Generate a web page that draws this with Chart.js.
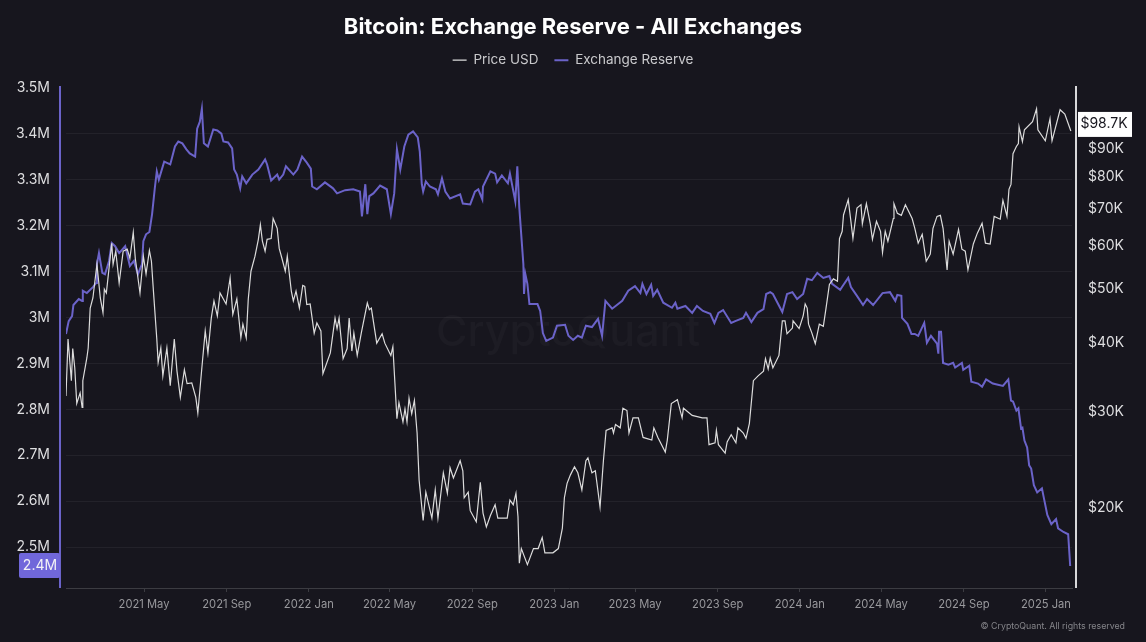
<!DOCTYPE html>
<html>
<head>
<meta charset="utf-8">
<title>Bitcoin: Exchange Reserve - All Exchanges</title>
<script src="https://cdn.jsdelivr.net/npm/chart.js@4/dist/chart.umd.min.js"></script>
<style>
  html, body { margin: 0; padding: 0; background: #17161e; }
  canvas { display: block; }
</style>
</head>
<body>
<canvas id="chart" width="1146" height="642"></canvas>
<script>
// days counted from 2021-01-01
const reserveDays = [4,8,13,15,23,28,29,35,44,49,50,53,58,62,68,72,77,83,92,99,105,111,117,119,123,128,132,136,139,142,150,159,166,171,177,183,188,196,199,203,206,209,215,223,229,235,238,245,251,254,
  258,263,266,272,281,290,300,303,309,318,321,327,331,342,348,355,362,368,370,377,389,401,407,419,431,441,444,449,452,455,461,471,481,487,492,496,501,507,
  513,520,527,530,533,535,539,545,554,557,563,568,575,590,594,605,612,617,623,624,635,642,645,652,661,664,672,675,678,684,685,687,690,693,705,709,713,718,728,734,746,751,758,765,771,777,786,795,801,806,816,831,840,850,858,861,867,874,877,883,892,905,910,913,925,935,942,951,962,968,974,981,993,999,1011,1015,1023,1032,1041,1045,1051,1055,1069,1076,1084,1091,1100,1106,1113,1121,1130,1139,1143,1155,1160,1167,1171,1180,1189,1195,1204,1218,1229,1237,1240,1246,1247,1255,1261,1266,
  1271,1280,1284,1290,1299,1301,1302,1305,1308,1316,1323,1326,1336,1338,1347,1350,1360,1366,1372,1382,1397,1405,1409,1412,1417,1420,1424,1426,1429,1433,1436,1439,1443,1448,1455,1458,1463,1469,1476,1479,1487,1494,1497];
// millions of BTC
const reserveValues = [2.964,2.992,3.003,3.027,3.040,3.036,3.058,3.053,3.066,3.075,3.116,3.140,3.097,3.094,3.123,3.162,3.155,3.140,3.155,3.112,3.123,3.094,3.116,3.166,3.181,3.186,3.225,3.281,3.318,3.300,3.339,3.333,3.372,3.383,3.379,3.366,3.357,3.350,3.411,3.426,3.454,3.379,3.372,3.409,3.407,3.400,3.383,3.381,3.368,3.322,
  3.311,3.281,3.307,3.292,3.311,3.322,3.344,3.333,3.298,3.311,3.300,3.311,3.329,3.311,3.322,3.350,3.337,3.324,3.285,3.279,3.294,3.281,3.270,3.277,3.279,3.274,3.220,3.290,3.225,3.264,3.270,3.287,3.279,3.225,3.270,3.366,3.322,3.372,
  3.398,3.405,3.392,3.361,3.290,3.274,3.296,3.285,3.279,3.268,3.303,3.274,3.259,3.268,3.248,3.246,3.274,3.279,3.257,3.285,3.318,3.313,3.294,3.309,3.292,3.313,3.253,3.329,3.238,3.116,3.051,3.094,3.073,3.029,3.029,3.014,2.966,2.949,2.956,2.982,2.984,2.960,2.951,2.960,2.956,2.982,2.979,2.997,2.960,3.036,3.019,3.036,3.058,3.068,3.053,3.073,3.051,3.071,3.047,3.060,3.032,3.021,3.032,3.019,3.025,3.010,3.025,3.014,3.008,2.988,3.010,3.016,2.988,2.992,2.999,3.010,2.990,3.010,3.018,3.051,3.055,3.051,3.012,3.051,3.055,3.040,3.051,3.084,3.081,3.097,3.086,3.090,3.073,3.060,3.071,3.086,3.066,3.047,3.027,3.040,3.027,3.053,3.055,3.036,3.049,3.047,2.999,2.986,2.964,2.964,
  2.960,2.988,2.945,2.960,2.943,2.921,2.969,2.969,2.901,2.897,2.901,2.891,2.901,2.886,2.895,2.860,2.856,2.849,2.865,2.856,2.851,2.865,2.819,2.817,2.797,2.802,2.758,2.760,2.732,2.717,2.678,2.671,2.635,2.619,2.628,2.606,2.570,2.550,2.561,2.541,2.533,2.528,2.459];

const priceDays = [4,7,12,14,17,20,25,28,29,35,37,40,44,50,55,59,61,64,72,74,78,83,89,95,99,104,107,114,119,123,128,131,134,139,141,145,148,154,159,165,169,174,180,184,191,197,200,206,211,215,220,224,229,233,242,248,252,
  258,264,267,272,275,279,285,290,293,296,300,303,309,312,318,321,325,330,333,339,342,346,351,356,359,362,367,373,377,383,386,397,400,404,407,410,416,422,425,429,432,437,443,452,455,458,466,474,478,487,490,492,496,499,505,508,
  511,514,518,522,526,529,535,539,548,553,557,565,571,575,580,590,594,596,602,605,614,620,624,629,635,642,646,660,664,669,673,676,678,681,690,699,706,712,716,728,736,742,745,749,754,760,765,771,777,780,786,791,798,803,807,816,818,821,828,832,838,841,847,855,862,875,878,884,895,898,904,913,920,922,935,950,957,960,969,971,974,984,987,993,1000,1003,1011,1015,1020,1026,1033,1041,1044,1048,1051,1055,1064,1069,1073,1076,1084,1085,1094,1100,1103,1106,1108,1113,1118,1124,1130,1134,1139,1145,1151,1154,1158,1160,1167,1171,1174,1180,1186,1188,1194,1200,1203,1209,1215,1218,1222,1226,1234,1235,1240,1246,1252,
  1262,1266,1271,1277,1283,1289,1293,1299,1304,1308,1314,1317,1323,1331,1336,1341,1345,1353,1359,1366,1371,1378,1384,1393,1397,1403,1406,1409,1412,1417,1420,1421,1426,1429,1441,1447,1449,1460,1467,1470,1482,1489,1498];
// thousands of USD
const priceValues = [32.0,40.6,34.1,39.0,36.0,31.0,32.4,30.5,34.1,37.5,39.1,46.2,48.2,55.5,48.2,45.3,50.0,49.2,60.6,55.5,58.6,51.3,58.6,59.1,56.9,63.4,56.9,49.2,57.4,53.3,58.8,56.2,49.6,40.6,36.8,39.1,34.8,39.1,33.4,40.6,35.5,31.8,35.7,33.7,33.8,31.8,29.8,36.0,42.0,38.3,44.3,47.6,44.7,49.2,47.0,52.4,45.0,
  48.0,40.8,43.2,40.8,48.0,53.9,57.4,61.6,65.5,61.1,58.6,61.6,61.8,67.2,64.5,59.3,56.9,53.9,57.4,49.6,47.6,49.6,46.2,50.8,50.6,46.9,47.0,41.6,43.4,42.0,35.1,38.3,40.8,44.3,42.4,44.3,37.4,39.0,44.3,38.6,41.6,37.9,41.6,47.2,45.9,46.2,39.9,41.5,39.9,37.9,39.3,35.5,29.1,31.1,28.7,30.3,
  28.7,31.7,29.7,31.4,27.4,22.5,19.0,21.4,19.2,21.6,19.2,23.2,21.3,23.7,22.7,24.4,23.4,20.9,21.4,19.8,18.9,22.3,19.6,18.5,19.4,20.3,19.2,19.2,20.7,20.3,21.3,19.3,15.9,16.9,15.8,16.9,16.9,17.7,16.6,16.6,16.9,18.4,20.9,22.2,23.0,23.8,23.2,21.6,24.4,24.7,23.2,23.4,20.1,24.4,27.7,28.0,27.4,28.4,28.0,30.4,30.1,27.4,29.2,29.2,26.9,26.6,28.0,26.9,25.3,26.6,31.0,31.5,29.2,30.4,29.5,29.2,29.2,26.1,26.3,27.7,26.1,25.2,26.4,27.2,26.3,28.0,27.4,26.8,28.5,34.1,34.8,35.5,37.4,35.8,37.5,36.0,37.9,43.8,43.8,41.5,42.5,43.8,42.4,44.7,47.0,46.2,43.2,41.6,39.8,43.2,42.8,46.2,51.0,52.2,51.7,61.8,63.7,68.2,72.7,66.4,61.8,70.2,71.2,65.7,71.5,65.5,61.6,66.4,63.7,58.3,63.7,61.1,67.2,71.5,68.7,68.1,71.2,
  67.2,64.5,60.6,62.9,56.2,57.9,64.5,67.8,68.1,64.5,54.2,61.1,57.9,64.2,59.1,58.6,54.2,60.4,63.2,65.9,60.6,60.4,67.8,67.0,72.5,67.8,75.9,77.5,88.1,90.8,91.9,98.6,92.7,97.4,100.7,106.3,97.4,93.0,102.0,93.0,105.9,104.0,96.9];

const reserveTicks = [2.5,2.6,2.7,2.8,2.9,3,3.1,3.2,3.3,3.4,3.5];
const reserveTickLabels = ["2.5M","2.6M","2.7M","2.8M","2.9M","3M","3.1M","3.2M","3.3M","3.4M","3.5M"];
const priceTicks = [20,30,40,50,60,70,80,90];
const priceTickLabels = ["$20K","$30K","$40K","$50K","$60K","$70K","$80K","$90K"];
const dateTicks = [120,243,365,485,608,730,850,973,1095,1216,1339,1461];
const dateTickLabels = ["2021 May","2021 Sep","2022 Jan","2022 May","2022 Sep","2023 Jan","2023 May","2023 Sep","2024 Jan","2024 May","2024 Sep","2025 Jan"];

const FONT = "Inter";
const PURPLE = "#6b63c9";

// axis rails, badges, watermark and footer: things Chart.js has no option for
const extras = {
  id: "extras",
  beforeInit(chart) {
    // leave room under the legend
    const fit = chart.legend.fit;
    chart.legend.fit = function () {
      fit.call(this);
      this.height += 9;
    };
  },
  beforeDatasetsDraw(chart) {
    const { ctx } = chart;
    ctx.save();
    ctx.font = "500 43px " + FONT;
    ctx.fillStyle = "rgba(255,255,255,0.028)";
    ctx.textAlign = "center";
    ctx.textBaseline = "middle";
    ctx.fillText("CryptoQuant", 568, 333);
    ctx.restore();
  },
  afterDraw(chart) {
    const { ctx, chartArea: a, scales } = chart;
    ctx.save();
    ctx.lineWidth = 2;
    ctx.strokeStyle = PURPLE;
    ctx.beginPath(); ctx.moveTo(a.left - 6, a.top); ctx.lineTo(a.left - 6, a.bottom); ctx.stroke();
    ctx.strokeStyle = "#d8d8da";
    ctx.beginPath(); ctx.moveTo(a.right + 4, a.top); ctx.lineTo(a.right + 4, a.bottom); ctx.stroke();

    ctx.textBaseline = "middle";
    ctx.font = "14px " + FONT;

    // left badge
    const ry = scales.y.getPixelForValue(reserveValues[reserveValues.length - 1]);
    ctx.fillStyle = "#7067da";
    ctx.beginPath(); ctx.roundRect(19, ry - 13, 41, 25, 2); ctx.fill();
    ctx.fillStyle = "#f2f2f6";
    ctx.textAlign = "center";
    ctx.fillText("2.4M", 40, ry);

    // right badge
    const py = scales.yPrice.getPixelForValue(99.8);
    ctx.fillStyle = "#ffffff";
    ctx.fillRect(1078, py - 12, 54, 25);
    ctx.fillStyle = "#17161e";
    ctx.fillText("$98.7K", 1104, py);

    ctx.font = "8.8px " + FONT;
    ctx.fillStyle = "#85858a";
    ctx.textAlign = "right";
    ctx.fillText("© CryptoQuant. All rights reserved", 1125, 626);
    ctx.restore();
  }
};

new Chart(document.getElementById("chart"), {
  type: "line",
  plugins: [extras],
  data: {
    datasets: [
      {
        label: "Price USD",
        data: priceDays.map((d, i) => ({ x: d, y: priceValues[i] })),
        yAxisID: "yPrice",
        borderColor: "#dcdcdc",
        backgroundColor: "#dcdcdc",
        borderWidth: 1.2,
        pointRadius: 0,
        pointStyle: "line",
        tension: 0,
      },
      {
        label: "Exchange Reserve",
        data: reserveDays.map((d, i) => ({ x: d, y: reserveValues[i] })),
        yAxisID: "y",
        borderColor: PURPLE,
        backgroundColor: PURPLE,
        borderWidth: 2,
        pointRadius: 0,
        pointStyle: "line",
        tension: 0,
      },
    ],
  },
  options: {
    responsive: false,
    animation: false,
    devicePixelRatio: 1,
    layout: { padding: { top: 0, bottom: 0, left: 0, right: 0 } },
    plugins: {
      tooltip: { enabled: false },
      title: {
        display: true,
        text: "Bitcoin: Exchange Reserve - All Exchanges",
        color: "#ffffff",
        font: { family: FONT, size: 22, weight: "700" },
        padding: { top: 14, bottom: -3 },
      },
      legend: {
        display: true,
        labels: {
          color: "#c9c9cc",
          font: { family: FONT, size: 13.5 },
          usePointStyle: true,
          pointStyleWidth: 14,
          boxHeight: 1,
          padding: 16,
        },
      },
    },
    scales: {
      x: {
        type: "linear",
        min: 4,
        max: 1499.7,
        afterBuildTicks: (s) => { s.ticks = dateTicks.map((v) => ({ value: v })); },
        afterFit: (s) => { s.height = 54; },
        border: { display: true, color: "#3c3c42", width: 1 },
        grid: { drawOnChartArea: false, drawTicks: true, tickLength: 4, color: "#3c3c42" },
        ticks: {
          autoSkip: false,
          maxRotation: 0,
          color: "#98989c",
          font: { family: FONT, size: 11.2 },
          padding: 6,
          callback: (v) => dateTickLabels[dateTicks.indexOf(v)],
        },
      },
      y: {
        type: "linear",
        position: "left",
        min: 2.411,
        max: 3.504,
        afterBuildTicks: (s) => { s.ticks = reserveTicks.map((v) => ({ value: v })); },
        afterFit: (s) => { s.width = 66; },
        border: { display: false },
        grid: {
          drawTicks: false,
          color: (c) => (c.tick && c.tick.value === 3.5 ? "rgba(0,0,0,0)" : "rgba(255,255,255,0.055)"),
        },
        ticks: {
          color: "#dedee0",
          font: { family: FONT, size: 14 },
          padding: 16,
          callback: (v) => reserveTickLabels[reserveTicks.indexOf(v)],
        },
      },
      yPrice: {
        type: "logarithmic",
        position: "right",
        min: 14.33,
        max: 117,
        afterBuildTicks: (s) => { s.ticks = priceTicks.map((v) => ({ value: v })); },
        afterFit: (s) => { s.width = 74; },
        border: { display: false },
        grid: { display: false, drawTicks: false },
        ticks: {
          color: "#dedee0",
          font: { family: FONT, size: 14 },
          padding: 16,
          callback: (v) => priceTickLabels[priceTicks.indexOf(v)],
        },
      },
    },
  },
});
</script>
</body>
</html>
